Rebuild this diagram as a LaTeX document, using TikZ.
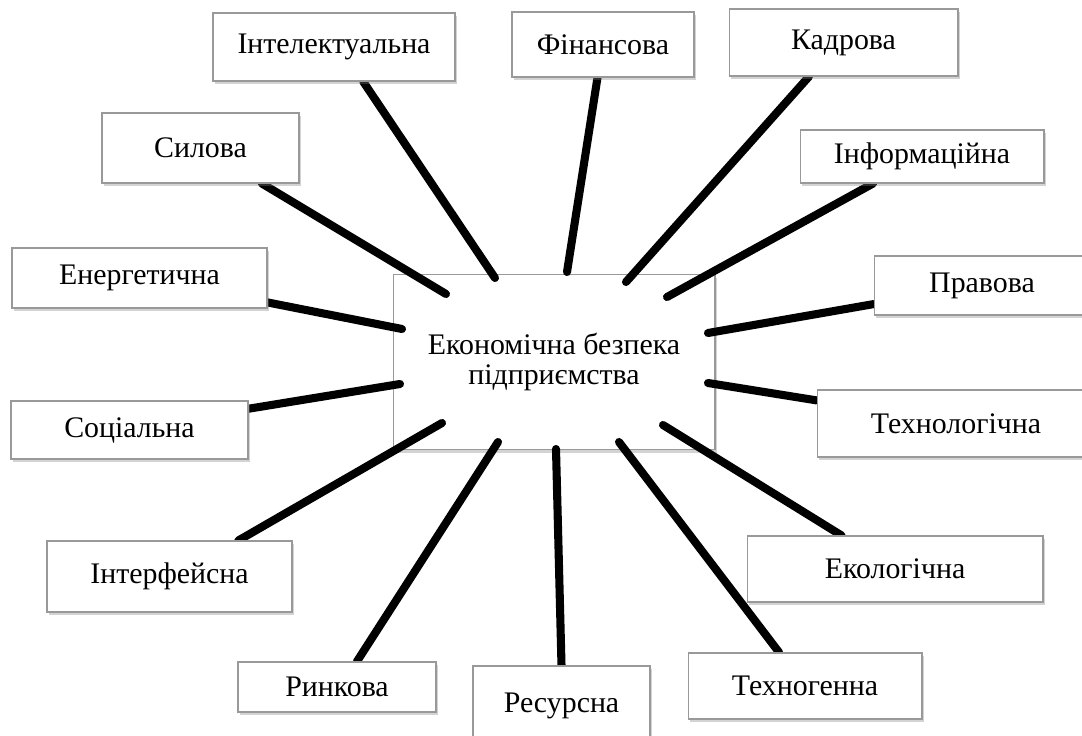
\documentclass[tikz,border=0pt]{standalone}
\usepackage{fontspec}
\setmainfont{Liberation Serif}
\usetikzlibrary{calc,shadows}
\pgfdeclarelayer{tlo}
\pgfdeclarelayer{promeni}
\pgfsetlayers{tlo,promeni,main}

\begin{document}
\begin{tikzpicture}[x=0.02cm, y=-0.02cm, font=\fontsize{17pt}{17.5pt}\selectfont,
    vyd/.style={rectangle, draw=black!40, line width=0.6pt, fill=white,
        drop shadow={shadow xshift=1.2pt, shadow yshift=-1.8pt, opacity=0.35},
        inner sep=0pt, align=center},
    promin/.style={line width=4.6pt, line cap=round}]

    \useasboundingbox (0,0) rectangle (1082,736);

    % центр
    \begin{pgfonlayer}{tlo}
    \node[vyd, minimum width=6.44cm, minimum height=3.5cm] (centr) at (554,362)
        {Економічна безпека\\підприємства};
    \end{pgfonlayer}

    % внутрішні кінці променів
    \coordinate (i-intel)  at (495,278);
    \coordinate (i-fin)    at (567,272);
    \coordinate (i-kadr)   at (626,282);
    \coordinate (i-inform) at (667,297);
    \coordinate (i-syl)    at (446,294);
    \coordinate (i-energ)  at (402,329);
    \coordinate (i-soc)    at (400,384);
    \coordinate (i-inter)  at (442,423);
    \coordinate (i-rynk)   at (498,442);
    \coordinate (i-resu)   at (556,449);
    \coordinate (i-tgen)   at (619,442);
    \coordinate (i-ekol)   at (663,425);
    \coordinate (i-tech)   at (708,383);
    \coordinate (i-prav)   at (708,333);

    % види безпеки
    \path
        (334,47)      node[vyd, minimum width=4.84cm, minimum height=1.36cm] (intel)  {Інтелектуальна}
        (603,44.5)    node[vyd, minimum width=3.64cm, minimum height=1.3cm]  (fin)    {Фінансова}
        (843.5,42.5)  node[vyd, minimum width=4.58cm, minimum height=1.34cm] (kadr)   {Кадрова}
        (922,156.5)   node[vyd, minimum width=4.88cm, minimum height=1.06cm] (inform) {Інформаційна}
        (200.5,148)   node[vyd, minimum width=3.94cm, minimum height=1.4cm]  (syl)    {Силова}
        (139.5,278)   node[vyd, minimum width=5.1cm,  minimum height=1.2cm]  (energ)  {Енергетична}
        (129.5,430)   node[vyd, minimum width=4.74cm, minimum height=1.16cm] (soc)    {Соціальна}
        (982,285.5)   node[vyd, minimum width=4.32cm, minimum height=1.18cm] (prav)   {Правова}
        (956,423.5)   node[vyd, minimum width=5.56cm, minimum height=1.34cm] (tech)   {Технологічна}
        (895,569)     node[vyd, minimum width=5.92cm, minimum height=1.32cm] (ekol)   {Екологічна}
        (805,686)     node[vyd, minimum width=4.68cm, minimum height=1.32cm] (tgen)   {Техногенна}
        (561.5,705.5) node[vyd, minimum width=3.54cm, minimum height=1.58cm] (resu)   {Ресурсна}
        (337,687)     node[vyd, minimum width=3.96cm, minimum height=1.0cm]  (rynk)   {Ринкова}
        (169.5,576.5) node[vyd, minimum width=4.9cm,  minimum height=1.42cm] (inter)  {Інтерфейсна};

    % промені (між центром і рамками)
    \begin{pgfonlayer}{promeni}
    \draw[promin] (i-intel)  -- ($(intel.south west)!0.62!(intel.south east)$);
    \draw[promin] (i-fin)    -- ($(fin.south west)!0.47!(fin.south east)$);
    \draw[promin] (i-kadr)   -- ($(kadr.south west)!0.35!(kadr.south east)$);
    \draw[promin] (i-inform) -- ($(inform.south west)!0.3!(inform.south east)$);
    \draw[promin] (i-syl)    -- ($(syl.south west)!0.81!(syl.south east)$);
    \draw[promin] (i-energ)  -- ($(energ.north east)!0.9!(energ.south east)$);
    \draw[promin] (i-soc)    -- ($(soc.north east)!0.14!(soc.south east)$);
    \draw[promin] (i-prav)   -- ($(prav.north west)!0.81!(prav.south west)$);
    \draw[promin] (i-tech)   -- ($(tech.north west)!0.16!(tech.south west)$);
    \draw[promin] (i-ekol)   -- ($(ekol.north west)!0.32!(ekol.north east)$);
    \draw[promin] (i-tgen)   -- ($(tgen.north west)!0.39!(tgen.north east)$);
    \draw[promin] (i-resu)   -- (resu.north);
    \draw[promin] (i-rynk)   -- ($(rynk.north west)!0.6!(rynk.north east)$);
    \draw[promin] (i-inter)  -- ($(inter.north west)!0.78!(inter.north east)$);
    \end{pgfonlayer}
\end{tikzpicture}
\end{document}
